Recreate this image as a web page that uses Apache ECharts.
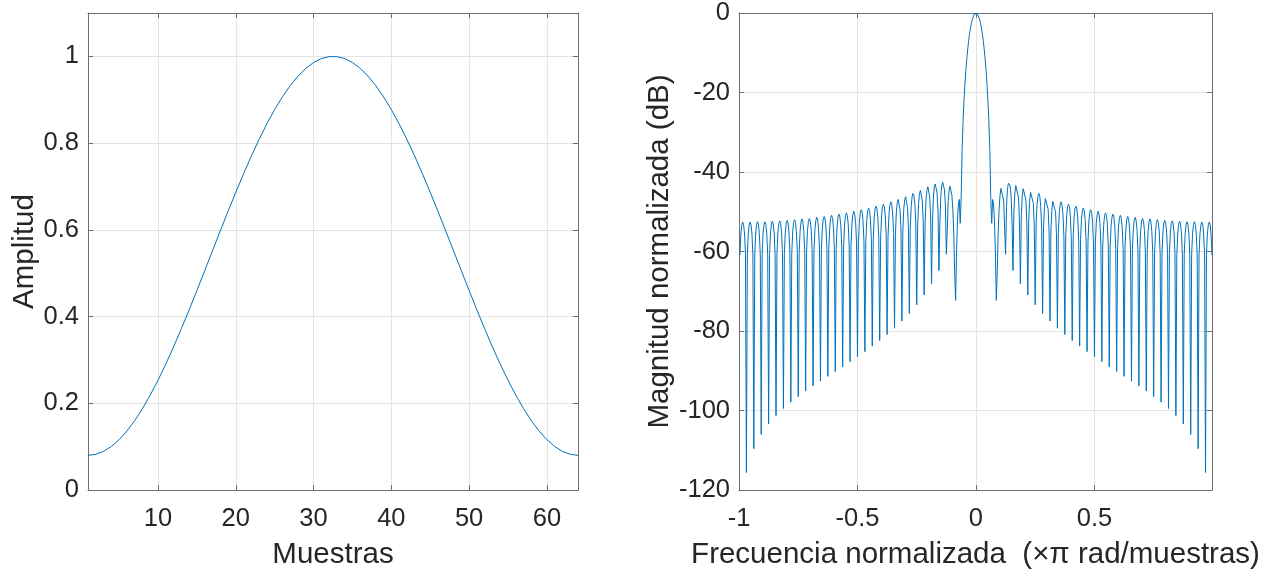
<!DOCTYPE html>
<html>
<head>
<meta charset="utf-8">
<script src="https://cdn.jsdelivr.net/npm/echarts@6.0.0/dist/echarts.min.js"></script>
<style>
html,body{margin:0;padding:0;background:#ffffff;}
#chart{width:1276px;height:575px;}
</style>
</head>
<body>
<div id="chart"></div>
<script>
// ---- Left panel: window in the time domain ----
const muestras = [1,2,3,4,5,6,7,8,9,10,11,12,13,14,15,16,17,18,19,20,21,22,23,24,25,26,27,28,29,30,31,32,
  33,34,35,36,37,38,39,40,41,42,43,44,45,46,47,48,49,50,51,52,53,54,55,56,57,58,59,60,61,62,63,64];
const amplitud = [0.0800,0.0823,0.0891,0.1004,0.1161,0.1360,0.1599,0.1876,0.2188,0.2532,0.2903,0.3299,0.3719,0.4154,0.4601,0.5056,
  0.5515,0.5972,0.6424,0.6865,0.7292,0.7700,0.8085,0.8444,0.8772,0.9067,0.9325,0.9544,0.9723,0.9858,0.9949,0.9994,
  0.9994,0.9949,0.9858,0.9723,0.9544,0.9325,0.9067,0.8772,0.8444,0.8085,0.7700,0.7292,0.6865,0.6424,0.5972,0.5515,
  0.5056,0.4601,0.4154,0.3719,0.3299,0.2903,0.2532,0.2188,0.1876,0.1599,0.1360,0.1161,0.1004,0.0891,0.0823,0.0800];

// ---- Right panel: normalized magnitude (dB), frequency grid from -255/256 to 255/256 (x pi rad/sample) ----
const freqStart = -255/256;
const freqStep = 1/256;
const magnitudDb = [
  -60.9,-55.6,-53.3,-52.6,-53.3,-55.6,-60.9,-115.6,
  -60.9,-55.6,-53.3,-52.6,-53.3,-55.6,-60.9,-109.6,
  -60.9,-55.6,-53.2,-52.5,-53.2,-55.5,-60.8,-106.0,
  -60.9,-55.5,-53.2,-52.5,-53.2,-55.5,-60.8,-103.4,
  -60.8,-55.4,-53.1,-52.4,-53.1,-55.4,-60.7,-101.3,
  -60.7,-55.3,-53.0,-52.3,-53.0,-55.3,-60.5,-99.5,
  -60.6,-55.2,-52.9,-52.2,-52.8,-55.1,-60.4,-97.9,
  -60.5,-55.1,-52.7,-52.0,-52.7,-55.0,-60.2,-96.5,
  -60.3,-54.9,-52.6,-51.8,-52.5,-54.8,-60.0,-95.1,
  -60.1,-54.7,-52.4,-51.7,-52.3,-54.6,-59.8,-93.8,
  -59.9,-54.5,-52.2,-51.4,-52.1,-54.4,-59.6,-92.6,
  -59.7,-54.3,-51.9,-51.2,-51.8,-54.1,-59.3,-91.4,
  -59.5,-54.0,-51.6,-50.9,-51.6,-53.8,-59.0,-90.2,
  -59.2,-53.7,-51.3,-50.6,-51.3,-53.5,-58.7,-89.0,
  -58.9,-53.4,-51.0,-50.3,-50.9,-53.2,-58.3,-87.7,
  -58.5,-53.0,-50.7,-49.9,-50.6,-52.8,-57.9,-86.5,
  -58.1,-52.6,-50.2,-49.5,-50.1,-52.4,-57.5,-85.2,
  -57.7,-52.2,-49.8,-49.1,-49.7,-51.9,-57.0,-83.8,
  -57.3,-51.7,-49.3,-48.6,-49.2,-51.4,-56.5,-82.4,
  -56.8,-51.2,-48.8,-48.1,-48.7,-50.9,-55.9,-80.9,
  -56.3,-50.7,-48.3,-47.5,-48.1,-50.3,-55.3,-79.3,
  -55.7,-50.1,-47.6,-46.9,-47.4,-49.6,-54.6,-77.5,
  -55.1,-49.4,-47.0,-46.2,-46.7,-48.9,-53.8,-75.6,
  -54.4,-48.7,-46.2,-45.4,-46.0,-48.1,-53.0,-73.4,
  -53.7,-47.9,-45.4,-44.6,-45.1,-47.2,-52.0,-70.9,
  -53.1,-47.1,-44.6,-43.7,-44.2,-46.2,-50.9,-68.1,
  -52.6,-46.5,-43.9,-43.0,-43.4,-45.3,-49.8,-64.8,
  -52.6,-46.2,-43.5,-42.5,-42.8,-44.5,-48.6,-60.7,
  -54.6,-47.4,-44.6,-43.6,-44.1,-45.9,-49.3,-55.2,
  -65.1,-72.3,-60.4,-52.4,-48.0,-46.9,-52.9,-46.6,
  -34.6,-27.6,-22.4,-18.2,-14.7,-11.8,-9.3,-7.2,
  -5.4,-3.9,-2.7,-1.7,-1.0,-0.4,-0.1,
  0,-0.1,-0.4,-1.0,-1.7,-2.7,-3.9,-5.4,
  -7.2,-9.3,-11.8,-14.7,-18.2,-22.4,-27.6,-34.6,
  -46.6,-52.9,-46.9,-48.0,-52.4,-60.4,-72.3,-65.1,
  -55.2,-49.3,-45.9,-44.1,-43.6,-44.6,-47.4,-54.6,
  -60.7,-48.6,-44.5,-42.8,-42.5,-43.5,-46.2,-52.6,
  -64.8,-49.8,-45.3,-43.4,-43.0,-43.9,-46.5,-52.6,
  -68.1,-50.9,-46.2,-44.2,-43.7,-44.6,-47.1,-53.1,
  -70.9,-52.0,-47.2,-45.1,-44.6,-45.4,-47.9,-53.7,
  -73.4,-53.0,-48.1,-46.0,-45.4,-46.2,-48.7,-54.4,
  -75.6,-53.8,-48.9,-46.7,-46.2,-47.0,-49.4,-55.1,
  -77.5,-54.6,-49.6,-47.4,-46.9,-47.6,-50.1,-55.7,
  -79.3,-55.3,-50.3,-48.1,-47.5,-48.3,-50.7,-56.3,
  -80.9,-55.9,-50.9,-48.7,-48.1,-48.8,-51.2,-56.8,
  -82.4,-56.5,-51.4,-49.2,-48.6,-49.3,-51.7,-57.3,
  -83.8,-57.0,-51.9,-49.7,-49.1,-49.8,-52.2,-57.7,
  -85.2,-57.5,-52.4,-50.1,-49.5,-50.2,-52.6,-58.1,
  -86.5,-57.9,-52.8,-50.6,-49.9,-50.7,-53.0,-58.5,
  -87.7,-58.3,-53.2,-50.9,-50.3,-51.0,-53.4,-58.9,
  -89.0,-58.7,-53.5,-51.3,-50.6,-51.3,-53.7,-59.2,
  -90.2,-59.0,-53.8,-51.6,-50.9,-51.6,-54.0,-59.5,
  -91.4,-59.3,-54.1,-51.8,-51.2,-51.9,-54.3,-59.7,
  -92.6,-59.6,-54.4,-52.1,-51.4,-52.2,-54.5,-59.9,
  -93.8,-59.8,-54.6,-52.3,-51.7,-52.4,-54.7,-60.1,
  -95.1,-60.0,-54.8,-52.5,-51.8,-52.6,-54.9,-60.3,
  -96.5,-60.2,-55.0,-52.7,-52.0,-52.7,-55.1,-60.5,
  -97.9,-60.4,-55.1,-52.8,-52.2,-52.9,-55.2,-60.6,
  -99.5,-60.5,-55.3,-53.0,-52.3,-53.0,-55.3,-60.7,
  -101.3,-60.7,-55.4,-53.1,-52.4,-53.1,-55.4,-60.8,
  -103.4,-60.8,-55.5,-53.2,-52.5,-53.2,-55.5,-60.9,
  -106.0,-60.8,-55.5,-53.2,-52.5,-53.2,-55.6,-60.9,
  -109.6,-60.9,-55.6,-53.3,-52.6,-53.3,-55.6,-60.9,
  -115.6,-60.9,-55.6,-53.3,-52.6,-53.3,-55.6,-60.9
];

// ---- Axis ticks / labels ----
const xTicksIzq = [10,20,30,40,50,60];
const yTicksIzq = [0,0.2,0.4,0.6,0.8,1];
const xTicksDer = [-1,-0.5,0,0.5];
const yTicksDer = [-120,-100,-80,-60,-40,-20,0];

const FONT = '"Liberation Sans", Arial, Helvetica, sans-serif';
const TXT = '#262626';
const AXC = '#6e6e6e';
const GRIDC = '#e4e4e4';
const LINEC = '#0072BD';
const TICKFS = 25.5;
const NAMEFS = 29.5;

function isTick(list, v) { return list.some(t => Math.abs(t - v) < 1e-9); }

function baseAxis(extra) {
  return Object.assign({
    type: 'value',
    axisLine: { show: true, onZero: false, lineStyle: { color: AXC, width: 1 } },
    axisTick: { show: true, inside: true, length: 5, lineStyle: { color: AXC, width: 1 } },
    splitLine: { show: true, lineStyle: { color: GRIDC, width: 1 } },
    nameLocation: 'middle',
    nameTextStyle: { color: TXT, fontFamily: FONT, fontSize: NAMEFS }
  }, extra);
}
function mirrorAxis(extra) {
  return Object.assign({
    type: 'value',
    axisLine: { show: true, onZero: false, lineStyle: { color: AXC, width: 1 } },
    axisTick: { show: true, inside: true, length: 5, lineStyle: { color: AXC, width: 1 } },
    axisLabel: { show: false },
    splitLine: { show: false }
  }, extra);
}

const xLabel = (list) => ({
  color: TXT, fontFamily: FONT, fontSize: TICKFS, margin: 16,
  showMinLabel: true, showMaxLabel: true,
  formatter: v => isTick(list, v) ? String(+v.toFixed(2)) : ''
});
const yLabel = (list) => ({
  color: TXT, fontFamily: FONT, fontSize: TICKFS, margin: 9, padding: [7, 0, 0, 0],
  formatter: v => isTick(list, v) ? String(+v.toFixed(2)) : ''
});

const chart = echarts.init(document.getElementById('chart'), null, { renderer: 'canvas' });

const option = {
  animation: false,
  backgroundColor: '#ffffff',
  grid: [
    { left: 88, top: 13, width: 490, height: 483, containLabel: false },
    { left: 739, top: 12, width: 473, height: 484, containLabel: false }
  ],
  xAxis: [
    baseAxis({ gridIndex: 0, position: 'bottom', min: 1, max: 64, splitNumber: 6,
      name: 'Muestras', nameGap: 50, axisLabel: xLabel(xTicksIzq) }),
    mirrorAxis({ gridIndex: 0, position: 'top', min: 1, max: 64, splitNumber: 6 }),
    baseAxis({ gridIndex: 1, position: 'bottom', min: -1, max: 255/256, interval: 0.5,
      name: 'Frecuencia normalizada  (\u00d7\u03c0 rad/muestras)', nameGap: 50, axisLabel: xLabel(xTicksDer) }),
    mirrorAxis({ gridIndex: 1, position: 'top', min: -1, max: 255/256, interval: 0.5 })
  ],
  yAxis: [
    baseAxis({ gridIndex: 0, position: 'left', min: 0, max: 1.1, interval: 0.2,
      name: 'Amplitud', nameGap: 46, axisLabel: yLabel(yTicksIzq) }),
    mirrorAxis({ gridIndex: 0, position: 'right', min: 0, max: 1.1, interval: 0.2 }),
    baseAxis({ gridIndex: 1, position: 'left', min: -120, max: 0, interval: 20,
      name: 'Magnitud normalizada (dB)', nameGap: 64, axisLabel: yLabel(yTicksDer) }),
    mirrorAxis({ gridIndex: 1, position: 'right', min: -120, max: 0, interval: 20 })
  ],
  series: [
    {
      type: 'line', xAxisIndex: 0, yAxisIndex: 0,
      data: muestras.map((m, i) => [m, amplitud[i]]),
      showSymbol: false, symbol: 'none', smooth: false,
      lineStyle: { color: LINEC, width: 1 }, itemStyle: { color: LINEC }
    },
    {
      type: 'line', xAxisIndex: 2, yAxisIndex: 2,
      data: magnitudDb.map((v, i) => [freqStart + i * freqStep, v]),
      showSymbol: false, symbol: 'none', smooth: false,
      lineStyle: { color: LINEC, width: 1 }, itemStyle: { color: LINEC }
    }
  ]
};
chart.setOption(option);
</script>
</body>
</html>
